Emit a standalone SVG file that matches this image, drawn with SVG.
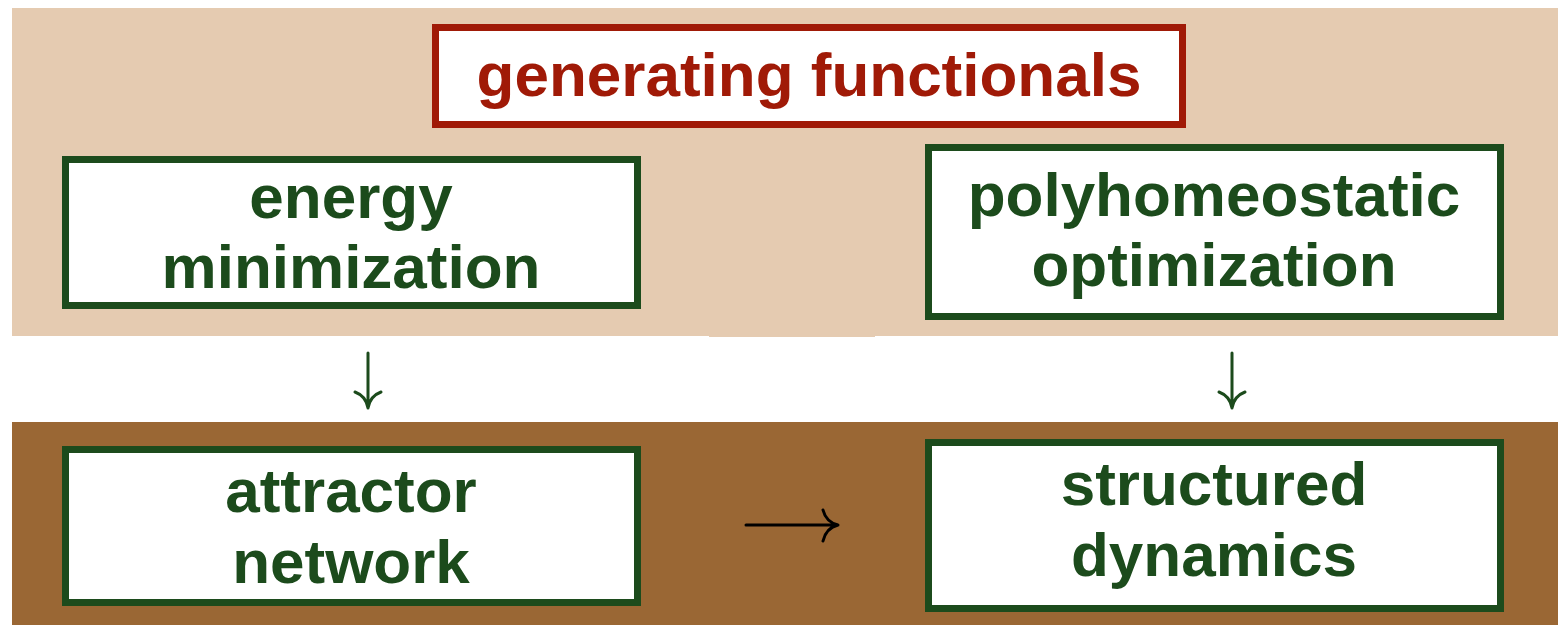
<svg xmlns="http://www.w3.org/2000/svg" width="1558" height="625" viewBox="0 0 1558 625">
<style>
.box{fill:#ffffff;stroke:#1c4b1c;stroke-width:7}
.tbox{fill:#ffffff;stroke:#a01a07;stroke-width:7}
.gt{font-family:"Liberation Sans",Arial,sans-serif;font-weight:bold;font-size:62px;fill:#1c4b1c;text-anchor:middle}
.rt{font-family:"Liberation Sans",Arial,sans-serif;font-weight:bold;font-size:62px;fill:#a01a07;text-anchor:middle}
.arr{fill:none;stroke-width:3;stroke-linecap:round}
</style>
<rect width="1558" height="625" fill="#ffffff"/>
<g id="backgrounds">
<rect x="12" y="8" width="1546" height="328" fill="#e5cbb1"/>
<rect x="709" y="330" width="166" height="7" fill="#e5cbb1"/>
<rect x="12" y="422" width="1546" height="203" fill="#9a6734"/>
</g>
<g id="title">
<rect class="tbox" x="435.5" y="27.5" width="747" height="97"/>
<text class="rt" x="809" y="96">generating functionals</text>
</g>
<g id="energy">
<rect class="box" x="65.5" y="159.5" width="572" height="146"/>
<text class="gt" x="351" y="218">energy</text>
<text class="gt" x="351" y="288">minimization</text>
</g>
<g id="poly">
<rect class="box" x="928.5" y="147.5" width="572" height="169"/>
<text class="gt" x="1214" y="216">polyhomeostatic</text>
<text class="gt" x="1214" y="286">optimization</text>
</g>
<g id="attractor">
<rect class="box" x="65.5" y="449.5" width="572" height="153"/>
<text class="gt" x="351" y="512">attractor</text>
<text class="gt" x="351" y="583">network</text>
</g>
<g id="structured">
<rect class="box" x="928.5" y="442.5" width="572" height="166"/>
<text class="gt" x="1214" y="505">structured</text>
<text class="gt" x="1214" y="576">dynamics</text>
</g>
<g id="connectors">
<path class="arr" stroke="#1c4b1c" d="M368 353 V408 M355 392 Q366 396 368 408 Q370 396 381 392"/>
<path class="arr" stroke="#1c4b1c" d="M1232 353 V408 M1219 392 Q1230 396 1232 408 Q1234 396 1245 392"/>
<path class="arr" stroke="#000000" d="M746 525 H838 M823 510 Q826 522 838 525 Q826 528 823 541"/>
</g>
</svg>
